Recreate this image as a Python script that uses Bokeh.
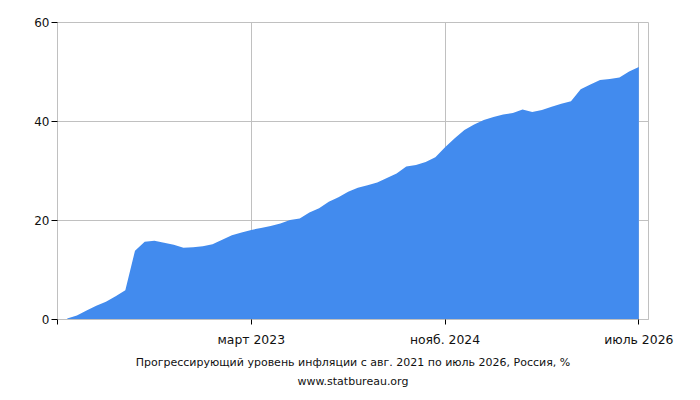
from bokeh.plotting import figure
from bokeh.models import Range1d, FixedTicker, Title
from bokeh.embed import file_html
from bokeh.resources import INLINE

# month index: 0 = июль 2021, 1 = авг. 2021 ... 60 = июль 2026
months = list(range(1, 61))
values = [0.2, 0.8, 1.8, 2.8, 3.6, 4.7, 5.9, 13.9, 15.7, 15.9,
          15.5, 15.1, 14.5, 14.6, 14.8, 15.2, 16.1, 17.0, 17.6, 18.1,
          18.5, 18.9, 19.4, 20.1, 20.4, 21.6, 22.5, 23.8, 24.7, 25.8,
          26.6, 27.1, 27.7, 28.6, 29.5, 30.9, 31.2, 31.8, 32.8, 34.8,
          36.6, 38.3, 39.4, 40.3, 40.9, 41.4, 41.7, 42.4, 41.9, 42.3,
          43.0, 43.6, 44.1, 46.5, 47.5, 48.4, 48.6, 48.9, 50.1, 51.0]

x_ticks = [0, 20, 40, 60]
x_tick_labels = ["", "март 2023", "нояб. 2024", "июль 2026"]
y_ticks = [0, 20, 40, 60]
title_lines = ["Прогрессирующий уровень инфляции с авг. 2021 по июль 2026, Россия, %",
               "www.statbureau.org"]

FONT = "DejaVu Sans"
GRID = "#c0c0c0"

p = figure(width=692, height=400, output_backend="svg", toolbar_location=None,
           x_range=Range1d(0, 61), y_range=Range1d(0, 60),
           min_border_left=57, min_border_right=44, min_border_top=22, min_border_bottom=81)
p.background_fill_color = "white"
p.border_fill_color = "white"
p.outline_line_color = GRID

p.varea(x=months, y1=[0] * len(values), y2=values, fill_color="#428BEE", fill_alpha=1.0)

p.xaxis.ticker = FixedTicker(ticks=x_ticks)
p.xaxis.major_label_overrides = {t: l for t, l in zip(x_ticks, x_tick_labels)}
p.yaxis.ticker = FixedTicker(ticks=y_ticks)

for ax in (p.xaxis, p.yaxis):
    ax.axis_line_color = GRID
    ax.major_tick_line_color = "black"
    ax.minor_tick_line_color = None
    ax.major_tick_in = 0
    ax.major_label_text_font = FONT
    ax.major_label_text_font_size = "12.4px"
    ax.major_label_text_color = "#111111"
p.yaxis.major_label_text_font_size = "12px"
p.xaxis.major_tick_out = 5
p.xaxis.major_label_standoff = 7
p.yaxis.major_tick_out = 6
p.yaxis.major_label_standoff = 2

p.xgrid.ticker = FixedTicker(ticks=x_ticks)
p.ygrid.ticker = FixedTicker(ticks=y_ticks)
p.grid.grid_line_color = GRID
p.grid.grid_line_width = 1

title_standoffs = [8, 0]
title_line_heights = [0.2, 0.9]
for line, so, lh in zip(title_lines, title_standoffs, title_line_heights):
    p.add_layout(Title(text=line, align="center",
                       text_font=FONT, text_font_size="11px",
                       text_font_style="normal", text_color="#111111",
                       standoff=so, offset=0, text_line_height=lh), "below")

open("out.html", "w").write(file_html(p, INLINE))
